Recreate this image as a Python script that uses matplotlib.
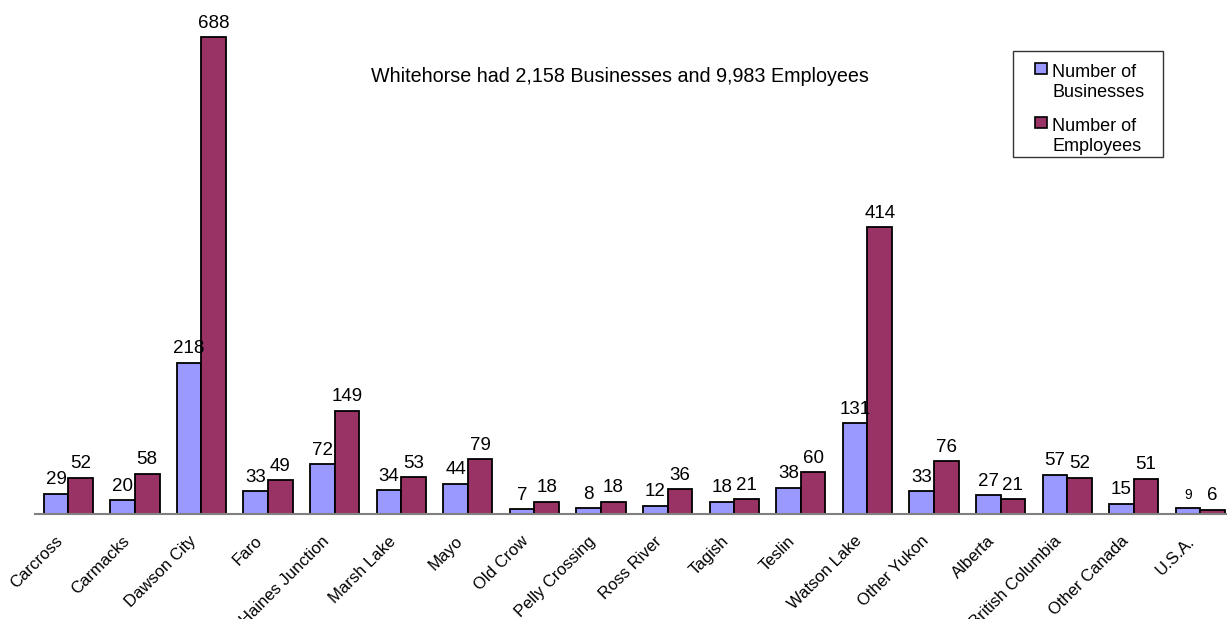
import numpy as np
import matplotlib.pyplot as plt
from matplotlib.patches import Rectangle

plt.rcParams['font.family'] = ['Liberation Sans', 'DejaVu Sans']

places = ['Carcross', 'Carmacks', 'Dawson City', 'Faro', 'Haines Junction',
          'Marsh Lake', 'Mayo', 'Old Crow', 'Pelly Crossing', 'Ross River',
          'Tagish', 'Teslin', 'Watson Lake', 'Other Yukon', 'Alberta',
          'British Columbia', 'Other Canada', 'U.S.A.']
businesses = [29, 20, 218, 33, 72, 34, 44, 7, 8, 12, 18, 38, 131, 33, 27, 57, 15, 9]
employees = [52, 58, 688, 49, 149, 53, 79, 18, 18, 36, 21, 60, 414, 76, 21, 52, 51, 6]

blue = '#9999FF'
maroon = '#993366'

W, H = 1227, 619
fig = plt.figure(figsize=(12.27, 6.19), dpi=100)
ax = fig.add_axes([0.0285, 0.1696, 0.9715, 0.806])

x = np.arange(len(places))
w = 0.37
ax.bar(x - w/2, businesses, w, color=blue, edgecolor='black', linewidth=1.3)
ax.bar(x + w/2, employees, w, color=maroon, edgecolor='black', linewidth=1.3)

for i in range(len(places)):
    fs = 10 if places[i] == 'U.S.A.' else 13.5
    ax.annotate(str(businesses[i]), (x[i] - w/2, businesses[i]), xytext=(0, 4),
                textcoords='offset points', ha='center', va='bottom', fontsize=fs)
    ax.annotate(str(employees[i]), (x[i] + w/2, employees[i]), xytext=(0, 4),
                textcoords='offset points', ha='center', va='bottom', fontsize=13.5)

ax.set_xlim(-0.5, 17.4)
ax.set_ylim(0, 720)
ax.set_xticks(x - 0.2)
ax.set_xticklabels(places, rotation=45, ha='right', rotation_mode='anchor', fontsize=12)
ax.tick_params(axis='x', length=0, pad=14)
ax.set_yticks([])
for s in ['top', 'right', 'left']:
    ax.spines[s].set_visible(False)
ax.spines['bottom'].set_color('#808080')
ax.spines['bottom'].set_linewidth(1.5)

fig.text(620 / W, 1 - 76 / H, 'Whitehorse had 2,158 Businesses and 9,983 Employees',
         ha='center', va='center', fontsize=14.2)

# legend box drawn by hand so the swatch sits on the first text line
fig.add_artist(Rectangle((1013 / W, 1 - 157 / H), 150 / W, 106 / H,
                         transform=fig.transFigure, facecolor='white',
                         edgecolor='#333333', linewidth=1.0))
legend_items = [(blue, 'Number of', 'Businesses', 63),
                (maroon, 'Number of', 'Employees', 117)]
for col, l1, l2, top in legend_items:
    fig.add_artist(Rectangle((1035 / W, 1 - (top + 11) / H), 12 / W, 11 / H,
                             transform=fig.transFigure, facecolor=col,
                             edgecolor='black', linewidth=1.2))
    fig.text(1052 / W, 1 - (top + 14) / H, l1, ha='left', va='baseline', fontsize=13)
    fig.text(1052 / W, 1 - (top + 34) / H, l2, ha='left', va='baseline', fontsize=13)

plt.savefig('out.png')
